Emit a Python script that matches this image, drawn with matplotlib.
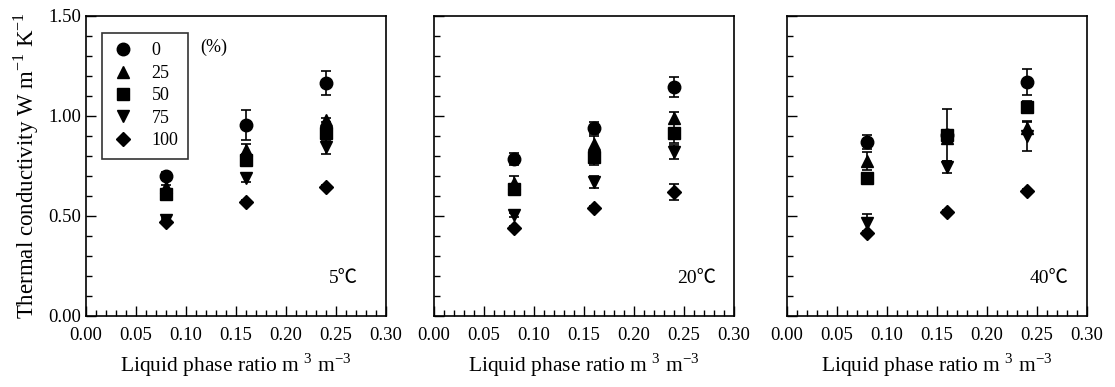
import matplotlib
matplotlib.use("Agg")
import matplotlib.pyplot as plt
from matplotlib.lines import Line2D
from matplotlib.ticker import MultipleLocator, FormatStrFormatter

plt.rcParams['font.family'] = ['Liberation Serif', 'DejaVu Serif']
plt.rcParams['mathtext.fontset'] = 'custom'
plt.rcParams['mathtext.rm'] = 'Liberation Serif'

liquid_ratio = [0.08, 0.16, 0.24]
series_labels = ['0', '25', '50', '75', '100']
markers = ['o', '^', 's', 'v', 'D']
temps = ['5℃', '20℃', '40℃']

# values per temperature panel: rows = series (0,25,50,75,100 %), cols = liquid ratio
vals_5 = [[0.70, 0.955, 1.165],
          [0.645, 0.83, 0.98],
          [0.61, 0.78, 0.915],
          [0.48, 0.69, 0.845],
          [0.47, 0.57, 0.645]]
err_5 = [[0.02, 0.075, 0.06],
         [0.01, 0.03, 0.01],
         [0.01, 0.03, 0.02],
         [0.01, 0.02, 0.035],
         [0.01, 0.01, 0.01]]
vals_20 = [[0.785, 0.94, 1.147],
           [0.665, 0.86, 0.99],
           [0.635, 0.795, 0.917],
           [0.505, 0.67, 0.82],
           [0.44, 0.54, 0.62]]
err_20 = [[0.03, 0.03, 0.05],
          [0.035, 0.04, 0.03],
          [0.01, 0.04, 0.05],
          [0.01, 0.03, 0.035],
          [0.01, 0.01, 0.04]]
vals_40 = [[0.87, 0.905, 1.17],
           [0.775, 0.89, 0.94],
           [0.69, 0.905, 1.047],
           [0.467, 0.745, 0.90],
           [0.415, 0.52, 0.625]]
err_40 = [[0.035, 0.13, 0.065],
          [0.045, 0.03, 0.03],
          [0.01, 0.02, 0.03],
          [0.045, 0.03, 0.075],
          [0.01, 0.01, 0.01]]
panel_vals = [vals_5, vals_20, vals_40]
panel_errs = [err_5, err_20, err_40]

fig = plt.figure(figsize=(11.15, 3.87), dpi=100)
lefts = [86, 434, 787]
axes = []
for i in range(3):
    ax = fig.add_axes([lefts[i] / 1115, 71 / 387, 300 / 1115, 300 / 387])
    axes.append(ax)
    for s in range(5):
        ax.errorbar(liquid_ratio, panel_vals[i][s], yerr=panel_errs[i][s],
                    fmt=markers[s], color='black', ms=9 if markers[s] != 'D' else 7.5,
                    capsize=3.5, elinewidth=1.2, capthick=1.2, zorder=3)
    ax.set_xlim(0, 0.30)
    ax.set_ylim(0, 1.50)
    ax.xaxis.set_major_locator(MultipleLocator(0.05))
    ax.xaxis.set_minor_locator(MultipleLocator(0.01))
    ax.yaxis.set_major_locator(MultipleLocator(0.5))
    ax.yaxis.set_minor_locator(MultipleLocator(0.1))
    ax.xaxis.set_major_formatter(FormatStrFormatter('%.2f'))
    ax.yaxis.set_major_formatter(FormatStrFormatter('%.2f'))
    ax.tick_params(which='both', direction='in', top=False, right=False,
                   labelsize=13.5, width=1.0)
    ax.tick_params(which='major', length=7)
    ax.tick_params(which='minor', length=4)
    ax.tick_params(axis='x', pad=8)
    for sp in ax.spines.values():
        sp.set_linewidth(1.2)
    if i > 0:
        ax.tick_params(axis='y', labelleft=False)
    ax.set_xlabel('Liquid phase ratio m$^{\\ 3}$ m$^{-3}$', fontsize=15.5, labelpad=5)
    ax.text(0.81, 0.125, temps[i], transform=ax.transAxes, fontsize=14,
            family=['Liberation Serif', 'Noto Sans CJK JP'], ha='left', va='center')

axes[0].set_ylabel('Thermal conductivity W m$^{-1}$ K$^{-1}$', fontsize=16.5, labelpad=5)

handles = [Line2D([], [], marker=m, color='black', linestyle='none',
                  ms=9 if m != 'D' else 7.5) for m in markers]
leg = axes[0].legend(handles, series_labels, loc='upper left',
                     bbox_to_anchor=(0.053, 0.945), fontsize=13, frameon=True,
                     fancybox=False, edgecolor='black', handlelength=1.2,
                     handletextpad=1.0, labelspacing=0.3, borderpad=0.55,
                     borderaxespad=0)
leg.get_frame().set_linewidth(1.2)
axes[0].text(0.38, 0.895, '(%)', transform=axes[0].transAxes, fontsize=13,
             ha='left', va='center')

fig.savefig('out.png', dpi=100)
